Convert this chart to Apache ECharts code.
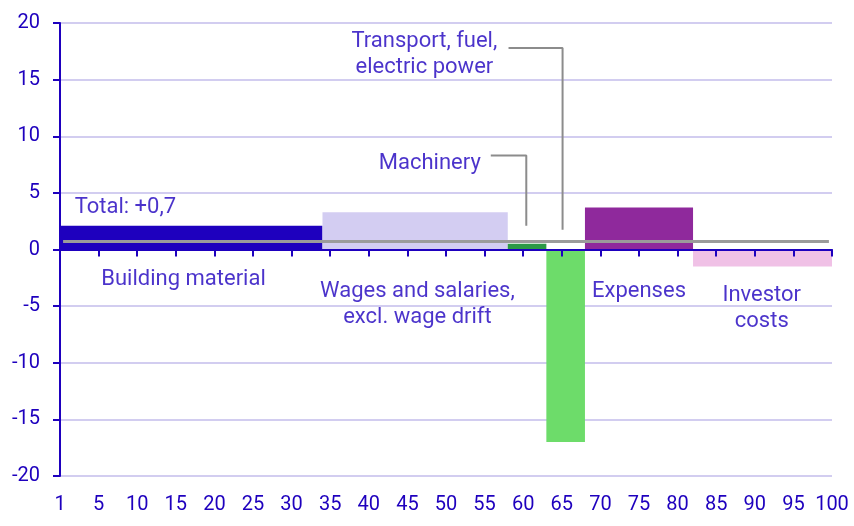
<!DOCTYPE html>
<html><head><meta charset="utf-8">
<script src="https://cdn.jsdelivr.net/npm/echarts@6/dist/echarts.min.js"></script>
<style>html,body{margin:0;padding:0;background:#fff}#c{width:854px;height:526px}</style>
</head><body><div id="c"></div>
<script>
// Data
const barNames  = ['Building material','Wages and salaries','Machinery','Transport','Expenses','Investor costs'];
const barStart  = [0, 34, 58, 63, 68, 82];
const barEnd    = [34, 58, 63, 68, 82, 100];
const barValue  = [2.1, 3.3, 0.5, -17.0, 3.7, -1.5];
const barColors = ['#1e00be','#d3cdf2','#2c9a46','#6ddc6a','#8f299c','#f0c1e6'];
const total = 0.7;
const xTicks = [1,5,10,15,20,25,30,35,40,45,50,55,60,65,70,75,80,85,90,95,100];

// Annotation labels (text, anchor x, anchor y in data units)
const annText = ['Building material','Wages and salaries,\nexcl. wage drift','Expenses','Investor\ncosts','Machinery','Transport, fuel,\nelectric power'];
const annX = [16.0, 46.3, 75.0, 90.9, 47.9, 47.2];
const annY = [-2.62, -4.82, -3.72, -5.22, 7.58, 17.18];
const leaderMachinery = [[55.8, 8.3],[60.4, 8.3],[60.4, 2.1]];
const leaderTransport = [[58.1, 17.8],[65.1, 17.8],[65.1, 1.75]];

const TXT = '#1e00be';
const chart = echarts.init(document.getElementById('c'), null, {renderer:'canvas'});

const option = {
  animation:false,
  backgroundColor:'#fff',
  textStyle:{fontFamily:'Roboto'},
  grid:{left:60, right:22, top:23, bottom:50, containLabel:false},
  xAxis:[
    {type:'value', min:0, max:100, interval:5, position:'bottom',
     axisLine:{show:false, onZero:false}, axisTick:{show:false}, splitLine:{show:false},
     axisLabel:{color:TXT, fontSize:20, fontFamily:'Roboto', margin:19,
       formatter:function(v){ const i = Math.round(v/5); return String(xTicks[i]); }}},
    {type:'value', min:0, max:100, interval:5, position:'bottom', z:5,
     axisLine:{show:true, onZero:true, lineStyle:{color:TXT, width:2}},
     axisTick:{show:true, length:7, lineStyle:{color:TXT, width:2}},
     axisLabel:{show:false}, splitLine:{show:false}}
  ],
  yAxis:{type:'value', min:-20, max:20, interval:5,
    axisLine:{show:true, lineStyle:{color:TXT, width:2}},
    axisTick:{show:true, length:7, lineStyle:{color:TXT, width:2}},
    axisLabel:{color:TXT, fontSize:20, fontFamily:'Roboto', margin:20},
    splitLine:{show:true, lineStyle:{color:'#d2cdf0', width:2}}},
  series:[
    {type:'custom', xAxisIndex:0, z:2,
     data: barValue.map((v,i)=>[barStart[i], barEnd[i], v, i]),
     renderItem:function(params, api){
       const p0 = api.coord([api.value(0), api.value(2)]);
       const p1 = api.coord([api.value(1), 0]);
       const x = Math.min(p0[0],p1[0]), y = Math.min(p0[1],p1[1]);
       return {type:'rect', shape:{x:x, y:y, width:Math.abs(p1[0]-p0[0]), height:Math.abs(p1[1]-p0[1])},
         style:{fill: barColors[api.value(3)]}};
     }},
    {type:'line', xAxisIndex:0, z:6, symbol:'none', silent:true,
     data:[[0.4,total],[99.6,total]], lineStyle:{color:'#9b9b9b', width:3}},
    {type:'line', xAxisIndex:0, z:6, symbol:'none', silent:true,
     data:leaderMachinery, lineStyle:{color:'#8c8c8c', width:2}},
    {type:'line', xAxisIndex:0, z:6, symbol:'none', silent:true,
     data:leaderTransport, lineStyle:{color:'#8c8c8c', width:2}},
    {type:'scatter', xAxisIndex:0, z:7, symbolSize:0, silent:true,
     data: annText.map((t,i)=>({value:[annX[i], annY[i]], name:t})),
     label:{show:true, position:'inside', formatter:'{b}', color:TXT, fontSize:22, lineHeight:26, fontFamily:'Roboto', align:'center', verticalAlign:'middle'}},
    {type:'scatter', xAxisIndex:0, z:7, symbolSize:0, silent:true,
     data:[{value:[1.9, 3.72], name:'Total: +' + total.toFixed(1).replace('.', ',')}],
     label:{show:true, position:'inside', formatter:'{b}', color:TXT, fontSize:22, fontFamily:'Roboto', align:'left', verticalAlign:'middle'}}
  ]
};
chart.setOption(option);
</script></body></html>
